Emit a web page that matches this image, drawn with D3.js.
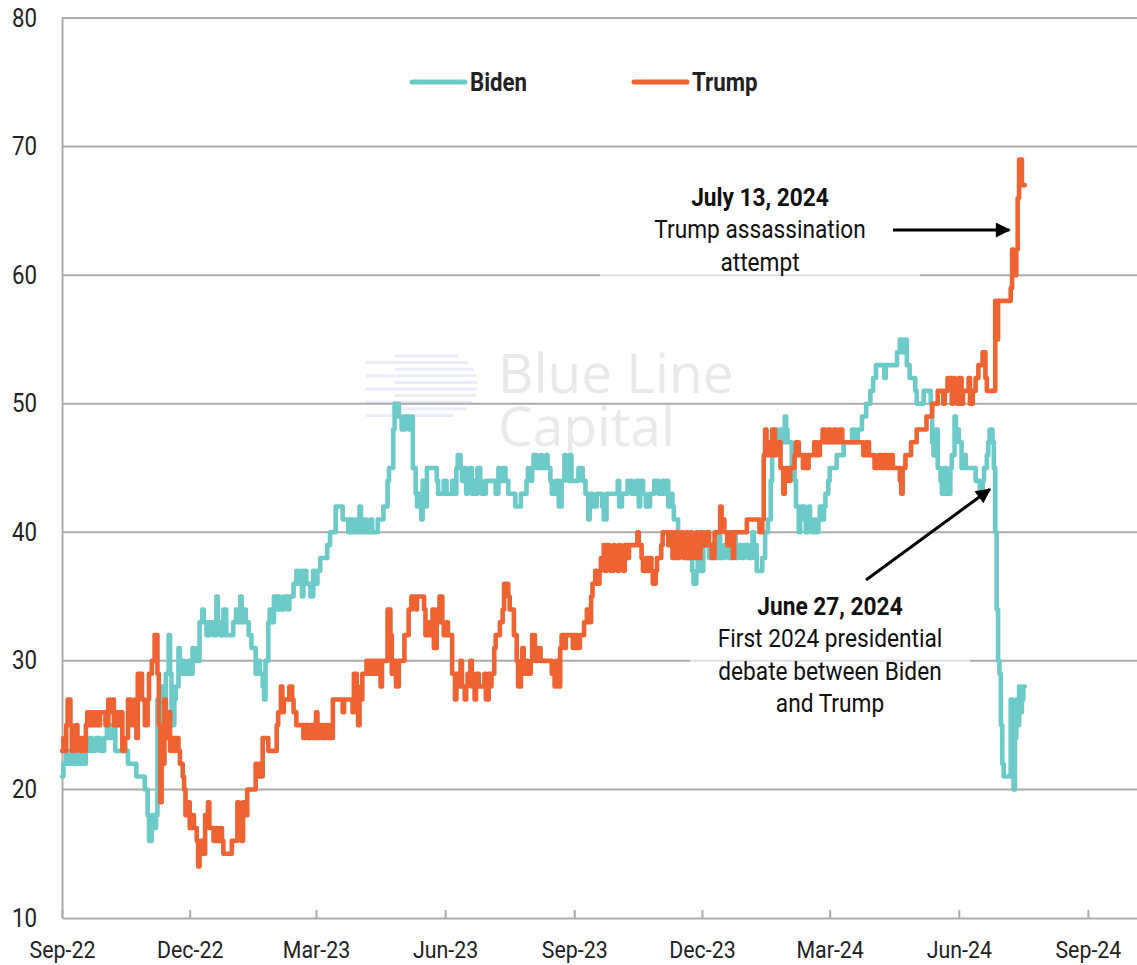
<!DOCTYPE html>
<html>
<head>
<meta charset="utf-8">
<script src="https://cdn.jsdelivr.net/npm/d3@7"></script>
<style>
  body { margin: 0; background: #fff; }
  svg { display: block; }
</style>
</head>
<body>
<div id="chart"></div>
<script>
// days after 1 Sep 2022, value (%)
const START_DATE = new Date(2022, 8, 1);
const bidenSeries = [
  [0,21],[1,22],[3,23],[4,22],[6,23],[7,22],[9,23],[10,22],[11,23],[13,22],[14,23],[16,22],[17,23],[19,24],
  [21,23],[24,24],[27,23],[30,24],[32,25],[34,24],[36,25],[38,23],[47,22],[53,21],[59,20],[61,18],[62,16],
  [64,18],[66,17],[67,18],[68,27],[70,25],[71,28],[73,26],[74,29],[76,32],[77,29],[78,25],[80,27],[81,28],
  [83,31],[84,29],[86,30],[87,29],[90,30],[91,29],[93,31],[94,30],[96,31],[97,30],[98,33],[100,34],[101,33],
  [103,32],[105,33],[108,32],[110,35],[111,33],[113,32],[115,34],[117,32],[122,33],[124,34],[125,33],[127,35],
  [128,33],[130,34],[131,33],[133,32],[135,31],[138,29],[140,30],[141,29],[143,28],[144,27],[145,30],[147,33],
  [148,34],[150,33],[151,35],[153,34],[154,35],[155,34],[158,35],[161,34],[162,35],[165,36],[167,37],[168,36],
  [170,37],[171,35],[172,37],[174,36],[177,35],[179,37],[180,36],[182,37],[184,38],[189,39],[191,40],[195,42],
  [200,41],[204,40],[205,41],[207,40],[208,41],[210,40],[212,42],[213,40],[215,41],[217,40],[220,41],[221,40],
  [225,41],[229,42],[232,44],[233,45],[236,48],[237,50],[240,49],[242,48],[244,49],[247,48],[248,49],[250,45],
  [252,43],[253,42],[254,43],[256,41],[257,44],[259,42],[260,45],[267,44],[268,43],[272,44],[274,43],[278,44],
  [279,43],[281,45],[282,46],[284,45],[285,44],[287,45],[288,43],[289,44],[291,45],[292,43],[294,44],[295,43],
  [296,45],[298,44],[299,43],[302,44],[309,43],[311,45],[312,44],[314,45],[316,44],[318,43],[323,42],[327,43],
  [331,44],[332,45],[334,44],[335,45],[336,46],[338,45],[341,46],[342,45],[345,46],[346,45],[348,44],[349,43],
  [352,44],[354,42],[356,44],[358,46],[359,45],[361,44],[362,46],[363,44],[368,45],[371,44],[373,43],[375,41],
  [376,43],[378,42],[381,43],[385,42],[386,41],[388,43],[396,44],[397,42],[399,43],[403,44],[406,43],[409,44],
  [411,42],[412,44],[414,43],[416,42],[419,43],[422,44],[425,43],[428,44],[429,43],[430,44],[432,42],[433,43],
  [435,42],[436,41],[439,40],[440,39],[445,38],[449,37],[450,36],[452,37],[453,38],[455,37],[457,39],[459,40],
  [461,38],[463,39],[465,38],[468,40],[469,38],[472,39],[475,38],[478,40],[480,38],[482,39],[484,38],[486,39],
  [489,38],[492,40],[493,39],[495,37],[499,38],[501,40],[503,41],[505,44],[506,46],[507,47],[509,48],[510,47],
  [512,48],[513,47],[515,49],[516,48],[517,47],[520,45],[522,44],[523,42],[525,40],[526,41],[527,42],[529,41],
  [530,40],[532,42],[533,41],[535,40],[536,41],[537,40],[539,41],[540,42],[542,41],[543,42],[544,43],[546,44],
  [547,45],[552,46],[557,47],[563,48],[565,47],[567,48],[570,49],[573,50],[576,51],[578,52],[580,53],[586,52],
  [587,53],[595,54],[597,55],[599,54],[601,55],[602,53],[604,52],[608,51],[609,50],[614,51],[619,50],[620,47],
  [621,46],[623,48],[624,45],[626,44],[627,43],[629,45],[630,44],[631,43],[633,45],[634,46],[636,49],[637,48],
  [639,47],[641,45],[643,46],[644,45],[651,44],[654,43],[656,44],[657,45],[659,46],[660,47],[661,48],[663,47],
  [664,45],[665,40],[666,34],[667,30],[668,29],[669,25],[670,22],[671,21],[676,27],[677,24],[678,20],[679,24],
  [680,27],[681,25],[682,28],[683,26],[684,27],[685,28],[686,28]
];
const trumpSeries = [
  [0,23],[1,24],[2,23],[3,25],[4,27],[6,25],[7,23],[8,24],[9,23],[10,25],[11,24],[13,23],[14,24],[16,23],
  [17,25],[18,26],[20,25],[21,26],[23,25],[24,26],[26,25],[27,26],[31,25],[33,27],[34,26],[36,27],[37,25],
  [39,26],[40,25],[41,26],[43,23],[45,24],[47,27],[49,26],[50,25],[52,27],[53,24],[54,29],[57,27],[59,25],
  [61,27],[62,29],[64,30],[66,32],[68,29],[69,25],[70,19],[71,22],[73,27],[74,24],[76,26],[77,23],[78,24],
  [80,23],[81,24],[83,23],[84,22],[86,21],[87,20],[88,18],[90,19],[91,17],[93,18],[94,17],[96,16],[97,14],
  [98,15],[99,16],[101,15],[102,18],[104,19],[105,17],[107,17],[108,16],[110,17],[111,16],[113,17],[114,16],
  [115,15],[118,15],[121,16],[124,16],[125,19],[126,18],[128,16],[129,19],[131,18],[132,20],[136,20],[138,22],
  [139,21],[140,22],[142,21],[143,24],[145,24],[147,23],[150,23],[153,25],[154,26],[156,28],[157,26],[158,27],
  [160,27],[162,28],[164,27],[165,26],[167,25],[170,25],[172,24],[173,25],[175,24],[177,25],[179,24],[181,26],
  [182,24],[184,25],[186,24],[188,25],[190,24],[193,27],[195,27],[198,27],[200,26],[201,27],[204,27],[207,26],
  [208,29],[210,28],[211,25],[212,27],[214,29],[217,30],[218,29],[219,30],[221,29],[222,30],[224,29],[225,30],
  [227,28],[228,30],[230,30],[232,34],[234,32],[235,29],[237,30],[238,28],[240,30],[244,32],[246,32],[247,34],
  [249,35],[252,34],[253,35],[258,34],[259,32],[261,33],[262,32],[264,34],[265,31],[267,34],[268,33],[269,35],
  [271,33],[272,32],[274,33],[275,32],[278,29],[280,27],[281,29],[282,28],[284,30],[285,28],[287,27],[288,28],
  [289,29],[291,30],[292,28],[294,27],[295,29],[297,28],[301,29],[302,27],[304,29],[305,28],[306,29],[308,31],
  [309,32],[312,33],[314,34],[315,36],[318,35],[319,34],[322,32],[324,30],[325,28],[327,29],[328,31],[329,29],
  [331,30],[332,29],[334,30],[335,32],[337,30],[339,31],[341,30],[349,29],[351,28],[352,30],[354,28],[355,31],
  [356,32],[358,31],[359,32],[364,31],[365,32],[367,31],[369,32],[372,33],[374,34],[375,33],[377,35],[378,36],
  [380,37],[381,36],[383,37],[384,38],[386,39],[387,37],[388,39],[390,38],[391,37],[393,39],[394,38],[396,37],
  [397,39],[398,38],[400,37],[401,39],[403,38],[404,39],[410,40],[411,39],[413,38],[414,37],[416,38],[417,37],
  [418,38],[420,37],[421,36],[423,37],[424,38],[427,39],[428,40],[432,39],[434,40],[435,38],[437,40],[438,38],
  [440,40],[442,39],[443,38],[445,40],[446,38],[448,40],[449,39],[450,38],[452,40],[453,38],[455,40],[457,39],
  [459,40],[461,39],[463,38],[465,40],[469,42],[470,41],[472,40],[474,39],[476,40],[478,38],[479,40],[488,41],
  [497,40],[499,41],[500,46],[501,48],[502,46],[504,47],[505,46],[506,48],[508,46],[509,47],[512,45],[514,43],
  [515,44],[516,45],[518,44],[519,45],[522,46],[523,47],[525,46],[528,45],[529,46],[530,45],[532,46],[536,47],
  [538,46],[540,47],[542,48],[544,47],[546,48],[548,47],[550,48],[552,47],[554,48],[556,47],[569,47],[571,46],
  [573,47],[575,46],[579,45],[582,46],[584,45],[586,46],[588,45],[590,46],[592,45],[597,44],[598,43],[599,45],
  [601,46],[605,47],[609,48],[616,49],[620,50],[624,51],[628,50],[629,51],[631,52],[634,50],[635,52],[636,51],
  [638,50],[639,52],[641,50],[642,51],[646,52],[647,50],[649,51],[651,52],[653,53],[656,54],[658,52],[659,51],
  [663,51],[665,58],[666,55],[667,58],[676,59],[677,62],[678,60],[680,62],[681,66],[682,69],[684,67],[686,67]
];

const yTicks = [10, 20, 30, 40, 50, 60, 70, 80];
const seriesNames = ["Biden", "Trump"];
const seriesColors = ["#6ccbc8", "#ef6232"];

const annotations = [
  { title: "July 13, 2024", lines: ["Trump assassination", "attempt"] },
  { title: "June 27, 2024", lines: ["First 2024 presidential", "debate between Biden", "and Trump"] }
];

const WIDTH = 1137;
const HEIGHT = 965;
const MARGIN = { top: 18, right: 0, bottom: 47, left: 62 };
const FONT = "Roboto, 'Liberation Sans', sans-serif";
const SQUEEZE = 0.89; // the source uses a narrow face
const GRID_COLOR = "#ababab";
const TEXT_COLOR = "#222";

const toPoints = (series) => series.map(([day, value]) => ({ date: d3.timeDay.offset(START_DATE, day), value }));
const lines = [toPoints(bidenSeries), toPoints(trumpSeries)];
const dayX = (day) => x(d3.timeDay.offset(START_DATE, day));

const x = d3.scaleTime()
  .domain([START_DATE, new Date(2024, 9, 6)])
  .range([MARGIN.left, WIDTH - MARGIN.right]);
const y = d3.scaleLinear()
  .domain([10, 80])
  .range([HEIGHT - MARGIN.bottom, MARGIN.top]);

const xTicks = d3.timeMonth.range(START_DATE, new Date(2024, 9, 2), 3);

const svg = d3.select("#chart").append("svg")
  .attr("width", WIDTH)
  .attr("height", HEIGHT)
  .attr("font-family", FONT);

const defs = svg.append("defs");
defs.append("marker")
  .attr("id", "arrow-head")
  .attr("viewBox", "0 0 10 10")
  .attr("refX", 9)
  .attr("refY", 5)
  .attr("markerWidth", 6)
  .attr("markerHeight", 5)
  .attr("markerUnits", "strokeWidth")
  .attr("orient", "auto")
  .append("path")
  .attr("d", "M0,0L10,5L0,10Z")
  .attr("fill", "#000");

// watermark
const watermark = svg.append("g").attr("class", "watermark");
d3.range(10).forEach((i) => {
  const yy = 356 + i * 6.6;
  const dy = yy - 385;
  const r = 31;
  const right = 447 + Math.sqrt(Math.max(0, r * r - dy * dy));
  watermark.append("line")
    .attr("x1", i % 2 ? 366 : 395).attr("x2", right)
    .attr("y1", yy).attr("y2", yy)
    .attr("stroke", "#ebecfb").attr("stroke-width", 3);
});
const mark = watermark.append("text")
  .attr("font-family", "'Open Sans', 'Liberation Sans', sans-serif")
  .attr("font-size", 55)
  .attr("fill", "#e9e9e9");
mark.append("tspan").attr("x", 498).attr("y", 393).text("Blue Line");
mark.append("tspan").attr("x", 498).attr("y", 446).text("Capital");

// grid
svg.append("g")
  .selectAll("line")
  .data(yTicks.slice(1))
  .join("line")
  .attr("x1", MARGIN.left)
  .attr("x2", WIDTH - MARGIN.right)
  .attr("y1", (d) => y(d))
  .attr("y2", (d) => y(d))
  .attr("stroke", GRID_COLOR)
  .attr("stroke-width", 2);

// y axis
const yAxis = svg.append("g")
  .attr("transform", `translate(${MARGIN.left},0)`)
  .call(d3.axisLeft(y).tickValues(yTicks).tickSize(0).tickPadding(28));
yAxis.select(".domain").attr("stroke", GRID_COLOR).attr("stroke-width", 2);
yAxis.selectAll("text")
  .attr("font-family", FONT)
  .attr("font-size", 25)
  .attr("fill", TEXT_COLOR)
  .attr("transform", `scale(${SQUEEZE},1)`);

// x axis
const xAxis = svg.append("g")
  .attr("transform", `translate(0,${HEIGHT - MARGIN.bottom})`)
  .call(d3.axisBottom(x).tickValues(xTicks).tickFormat(d3.timeFormat("%b-%y")).tickSizeInner(-8).tickSizeOuter(0).tickPadding(23));
xAxis.select(".domain").attr("stroke", GRID_COLOR).attr("stroke-width", 2);
xAxis.selectAll(".tick line").attr("stroke", GRID_COLOR).attr("stroke-width", 2);
xAxis.selectAll("text")
  .attr("font-family", FONT)
  .attr("font-size", 24)
  .attr("fill", TEXT_COLOR)
  .attr("transform", `scale(${SQUEEZE},1)`);

// annotation backgrounds
const noteBoxes = [
  { x0: 600, x1: 920, y0: 180, y1: 280 },
  { x0: 690, x1: 970, y0: 588, y1: 716 }
];
svg.append("g")
  .selectAll("rect")
  .data(noteBoxes)
  .join("rect")
  .attr("x", (d) => d.x0)
  .attr("y", (d) => d.y0)
  .attr("width", (d) => d.x1 - d.x0)
  .attr("height", (d) => d.y1 - d.y0)
  .attr("fill", "#fff")
  .attr("fill-opacity", 0.6);

// lines
const line = d3.line()
  .curve(d3.curveStepAfter)
  .x((d) => x(d.date))
  .y((d) => y(d.value));

svg.append("g")
  .selectAll("path")
  .data(lines)
  .join("path")
  .attr("d", line)
  .attr("fill", "none")
  .attr("stroke", (d, i) => seriesColors[i])
  .attr("stroke-width", 4.6)
  .attr("stroke-linejoin", "round")
  .attr("stroke-linecap", "round");

// legend
const legendX = [412, 634];
const legend = svg.append("g")
  .selectAll("g")
  .data(seriesNames)
  .join("g")
  .attr("transform", (d, i) => `translate(${legendX[i]},82)`);
legend.append("line")
  .attr("x1", 0).attr("x2", 53)
  .attr("stroke", (d, i) => seriesColors[i])
  .attr("stroke-width", 5)
  .attr("stroke-linecap", "round");
legend.append("text")
  .attr("transform", `translate(58,0) scale(${SQUEEZE},1)`)
  .attr("dy", "0.36em")
  .attr("font-size", 25)
  .attr("font-weight", "bold")
  .attr("fill", TEXT_COLOR)
  .text((d) => d);

// annotation text
const noteText = [
  { cx: 760, top: 206 },
  { cx: 830, top: 615 }
];
annotations.forEach((note, i) => {
  const t = svg.append("text")
    .attr("transform", `translate(${noteText[i].cx},${noteText[i].top}) scale(${SQUEEZE},1)`)
    .attr("text-anchor", "middle")
    .attr("font-size", 25.5)
    .attr("fill", "#111");
  t.append("tspan")
    .attr("x", 0)
    .attr("y", 0)
    .attr("font-weight", "bold")
    .text(note.title);
  note.lines.forEach((ln, j) => {
    t.append("tspan")
      .attr("x", 0)
      .attr("y", 32.5 * (j + 1))
      .text(ln);
  });
});

// arrows
const arrowStarts = [[893, 230], [866, 580]];
const arrowEnds = [
  [dayX(675), 230],
  [dayX(664) - 4, y(43.5) + 2]
];
svg.append("g")
  .selectAll("line")
  .data(arrowStarts)
  .join("line")
  .attr("x1", (d) => d[0])
  .attr("y1", (d) => d[1])
  .attr("x2", (d, i) => arrowEnds[i][0])
  .attr("y2", (d, i) => arrowEnds[i][1])
  .attr("stroke", "#000")
  .attr("stroke-width", 3)
  .attr("marker-end", "url(#arrow-head)");
</script>
</body>
</html>
